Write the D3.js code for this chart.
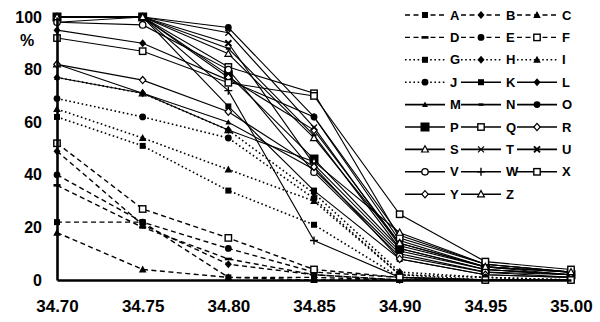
<!DOCTYPE html>
<html>
<head>
<meta charset="utf-8">
<script src="https://cdn.jsdelivr.net/npm/d3@7"></script>
<style>
  html, body { margin: 0; padding: 0; background: #fff; }
  svg { display: block; }
  text { font-family: "Liberation Sans", Arial, sans-serif; fill: #000; }
</style>
</head>
<body>
<svg id="chart" width="600" height="322"></svg>
<script>
// Salinity steps on the x axis and percentage ticks on the y axis
const xValues = [34.70, 34.75, 34.80, 34.85, 34.90, 34.95, 35.00];
const yTicks = [0, 20, 40, 60, 80, 100];

// Dashed series A–F
const dashedNames = ["A", "B", "C", "D", "E", "F"];
const dashedValues = [
  [22, 22, 1, 1, 0, 0, 0],
  [49, 21, 6, 2, 0, 0, 0],
  [18, 4, 1, 0, 0, 0, 0],
  [36, 20, 8, 2, 0, 0, 0],
  [40, 22, 12, 3, 1, 0, 0],
  [52, 27, 16, 4, 1, 0, 0]
];

// Dotted series G–J
const dottedNames = ["G", "H", "I", "J"];
const dottedValues = [
  [62, 51, 34, 21, 1, 0, 0],
  [77, 71, 57, 33, 3, 1, 0],
  [65, 54, 42, 30, 2, 0, 0],
  [69, 62, 54, 31, 2, 1, 0]
];

// Solid series K–Z
const solidNames = ["K", "L", "M", "N", "O", "P", "Q", "R", "S", "T", "U", "V", "W", "X", "Y", "Z"];
const solidValues = [
  [100, 100, 66, 34, 8, 2, 1],
  [95, 90, 76, 62, 15, 5, 3],
  [77, 71, 60, 42, 10, 3, 2],
  [98, 100, 88, 55, 12, 4, 2],
  [100, 100, 96, 62, 17, 6, 3],
  [100, 100, 78, 46, 12, 4, 2],
  [100, 100, 81, 71, 16, 6, 3],
  [100, 100, 77, 57, 14, 5, 3],
  [82, 71, 57, 45, 18, 6, 3],
  [100, 100, 94, 58, 13, 5, 2],
  [100, 100, 90, 44, 11, 4, 2],
  [98, 97, 80, 41, 9, 3, 1],
  [100, 100, 72, 15, 1, 0, 0],
  [92, 87, 75, 70, 25, 7, 4],
  [82, 76, 64, 43, 8, 2, 1],
  [100, 100, 86, 54, 14, 5, 3]
];

// Marker for each series letter
const markers = {
  A: "sq", B: "dia", C: "tri", D: "dash", E: "circ", F: "osq",
  G: "sq", H: "dia", I: "tri", J: "circ",
  K: "sq", L: "dia", M: "stri", N: "dot", O: "circ", P: "bigsq",
  Q: "osq", R: "odia", S: "otri", T: "x", U: "bx", V: "ocirc",
  W: "plus", X: "osq", Y: "odia", Z: "otri"
};

const styles = {
  dashed: { dash: "5,3.5", width: 1.4 },
  dotted: { dash: "1.6,2.6", width: 1.6 },
  solid: { dash: null, width: 1.1 }
};

const series = [];
dashedNames.forEach((n, i) => series.push({ name: n, values: dashedValues[i], style: "dashed" }));
dottedNames.forEach((n, i) => series.push({ name: n, values: dottedValues[i], style: "dotted" }));
solidNames.forEach((n, i) => series.push({ name: n, values: solidValues[i], style: "solid" }));

const svg = d3.select("#chart");
const x = d3.scaleLinear().domain([34.70, 35.00]).range([57, 571]);
const y = d3.scaleLinear().domain([0, 100]).range([280, 17]);

// Draws one marker shape centred on the current point
function drawMarker(g, type) {
  const k = "#000";
  switch (type) {
    case "sq": g.append("rect").attr("x", -3).attr("y", -3).attr("width", 6).attr("height", 6).attr("fill", k); break;
    case "bigsq": g.append("rect").attr("x", -4.5).attr("y", -4.5).attr("width", 9).attr("height", 9).attr("fill", k); break;
    case "osq": g.append("rect").attr("x", -3.2).attr("y", -3.2).attr("width", 6.4).attr("height", 6.4).attr("fill", "#fff").attr("stroke", k).attr("stroke-width", 1.4); break;
    case "dia": g.append("path").attr("d", "M0,-4L3.5,0L0,4L-3.5,0Z").attr("fill", k); break;
    case "odia": g.append("path").attr("d", "M0,-3.6L3.2,0L0,3.6L-3.2,0Z").attr("fill", "#fff").attr("stroke", k).attr("stroke-width", 1.2); break;
    case "tri": g.append("path").attr("d", "M0,-4L3.8,3L-3.8,3Z").attr("fill", k); break;
    case "stri": g.append("path").attr("d", "M0,-3L3,2.4L-3,2.4Z").attr("fill", k); break;
    case "otri": g.append("path").attr("d", "M0,-3.6L3.4,2.6L-3.4,2.6Z").attr("fill", "#fff").attr("stroke", k).attr("stroke-width", 1.2); break;
    case "circ": g.append("circle").attr("r", 3.4).attr("fill", k); break;
    case "ocirc": g.append("circle").attr("r", 3.2).attr("fill", "#fff").attr("stroke", k).attr("stroke-width", 1.3); break;
    case "dash": g.append("rect").attr("x", -3.5).attr("y", -1.3).attr("width", 7).attr("height", 2.6).attr("fill", k); break;
    case "dot": g.append("rect").attr("x", -2.5).attr("y", -1.2).attr("width", 5).attr("height", 2.4).attr("fill", k); break;
    case "x": g.append("path").attr("d", "M-3,-3L3,3M3,-3L-3,3").attr("stroke", k).attr("stroke-width", 1.2); break;
    case "bx": g.append("path").attr("d", "M-3,-3L3,3M3,-3L-3,3").attr("stroke", k).attr("stroke-width", 2); break;
    case "plus": g.append("path").attr("d", "M-4,0H4M0,-4V4").attr("stroke", k).attr("stroke-width", 1.4); break;
  }
}

const line = d3.line().x((d, i) => x(xValues[i])).y(d => y(d));

// Lines, drawn back to front: solid, dotted, dashed
const plot = svg.append("g");
const order = ["solid", "dotted", "dashed"];
order.forEach(st => {
  series.filter(s => s.style === st).forEach(s => {
    plot.append("path")
      .attr("d", line(s.values))
      .attr("fill", "none")
      .attr("stroke", "#000")
      .attr("stroke-width", styles[st].width)
      .attr("stroke-dasharray", styles[st].dash);
  });
});

// Point markers
order.forEach(st => {
  series.filter(s => s.style === st).forEach(s => {
    s.values.forEach((v, i) => {
      const g = plot.append("g").attr("transform", `translate(${x(xValues[i])},${y(v)})`);
      drawMarker(g, markers[s.name]);
    });
  });
});

// Axes
const yAxis = d3.axisLeft(y).tickValues(yTicks).tickSize(0).tickSizeOuter(0).tickPadding(15).tickFormat(d3.format("d"));
const yg = svg.append("g").attr("transform", `translate(${x(34.70)},0)`).call(yAxis);
yg.select(".domain").attr("stroke", "#000").attr("stroke-width", 2.6);
yg.selectAll("text").style("font-size", "16px").style("font-weight", "bold").attr("font-family", null);

const xAxis = d3.axisBottom(x).tickValues(xValues).tickSize(0).tickSizeOuter(0).tickPadding(20).tickFormat(d3.format(".2f"));
const xg = svg.append("g").attr("transform", `translate(0,${y(0)})`).call(xAxis);
xg.select(".domain").attr("stroke", "#000").attr("stroke-width", 2.6);
xg.selectAll("text").style("font-size", "17px").style("font-weight", "bold").attr("font-family", null);

svg.append("text").attr("x", 27).attr("y", 46).attr("text-anchor", "middle")
  .style("font-size", "16px").style("font-weight", "bold").text("%");

// Legend: three columns, nine rows
const legend = svg.append("g");
const colX = [405, 461, 517];
series.forEach((s, i) => {
  const col = i % 3, row = Math.floor(i / 3);
  const lx = colX[col], ly = 15 + row * 22.4;
  const g = legend.append("g").attr("transform", `translate(${lx},${ly})`);
  g.append("line").attr("x1", 0).attr("x2", 40).attr("y1", 0).attr("y2", 0)
    .attr("stroke", "#000")
    .attr("stroke-width", s.style === "solid" ? 1.6 : styles[s.style].width)
    .attr("stroke-dasharray", styles[s.style].dash);
  const m = g.append("g").attr("transform", "translate(20,0)");
  drawMarker(m, markers[s.name]);
  g.append("text").attr("x", 45).attr("y", 0).attr("dy", "0.36em")
    .style("font-size", "13px").style("font-weight", "bold").text(s.name);
});
</script>
</body>
</html>
